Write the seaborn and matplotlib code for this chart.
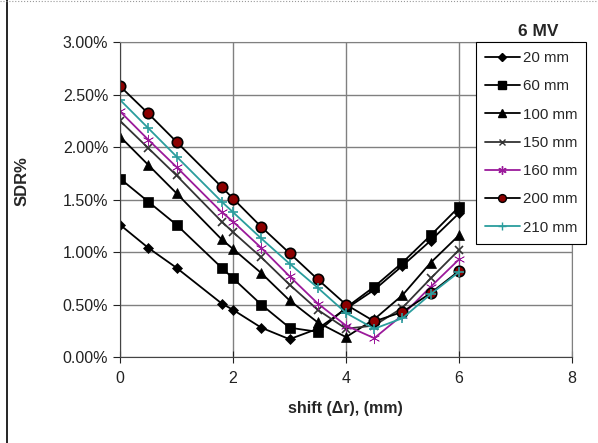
import pandas as pd
import seaborn as sns
import matplotlib.pyplot as plt
from matplotlib.lines import Line2D

# shift (mm) and SDR (%) per field depth
shift = [0, 0.5, 1, 1.8, 2, 2.5, 3, 3.5, 4, 4.5, 5, 5.5, 6]
sdr_20 = [1.26, 1.04, 0.85, 0.51, 0.45, 0.28, 0.17, 0.27, 0.46, 0.64, 0.87, 1.11, 1.37]
sdr_60 = [1.70, 1.48, 1.26, 0.85, 0.75, 0.50, 0.28, 0.24, 0.47, 0.67, 0.90, 1.16, 1.43]
sdr_100 = [2.10, 1.83, 1.56, 1.12, 1.03, 0.80, 0.54, 0.33, 0.19, 0.36, 0.59, 0.90, 1.16]
sdr_150 = [2.25, 1.99, 1.73, 1.29, 1.19, 0.95, 0.69, 0.45, 0.27, 0.30, 0.47, 0.75, 1.02]
sdr_160 = [2.34, 2.07, 1.81, 1.38, 1.29, 1.04, 0.77, 0.51, 0.30, 0.18, 0.40, 0.67, 0.93]
sdr_200 = [2.58, 2.32, 2.05, 1.62, 1.51, 1.24, 0.99, 0.74, 0.50, 0.34, 0.43, 0.61, 0.82]
sdr_210 = [2.45, 2.18, 1.91, 1.48, 1.38, 1.13, 0.89, 0.66, 0.42, 0.27, 0.37, 0.60, 0.81]

labels = ["20 mm", "60 mm", "100 mm", "150 mm", "160 mm", "200 mm", "210 mm"]
series = [sdr_20, sdr_60, sdr_100, sdr_150, sdr_160, sdr_200, sdr_210]

# line colour, marker, marker face, marker size
styles = {
    "20 mm": ("black", "D", "black", 5.5),
    "60 mm": ("black", "s", "black", 7.5),
    "100 mm": ("black", "^", "black", 7.5),
    "150 mm": ("#333333", "x", "#333333", 6),
    "160 mm": ("#9b1a9b", (6, 2, 0), "#9b1a9b", 8),
    "200 mm": ("black", "o", "#8b0000", 7.5),
    "210 mm": ("#2a9d9d", "+", "#2a9d9d", 7),
}

sns.set_style("white")
plt.rcParams["font.family"] = ["Liberation Sans", "DejaVu Sans"]

fig = plt.figure(figsize=(5.98, 4.43), dpi=100)
ax = fig.add_axes([0.2007, 0.194, 0.7558, 0.711])

for lab, vals in zip(labels, series):
    df = pd.DataFrame({"shift": shift, "sdr": vals})
    col, mk, face, ms = styles[lab]
    sns.lineplot(data=df, x="shift", y="sdr", ax=ax, color=col, marker=mk,
                 markersize=ms, markerfacecolor=face,
                 markeredgecolor="black" if lab == "200 mm" else face,
                 markeredgewidth=1.2 if mk in ("x", "+") or lab == "200 mm" else 0.5,
                 linewidth=1.3, label=lab, legend=False)

ax.set_xlim(0, 8)
ax.set_ylim(0, 3)
ax.set_xticks([0, 2, 4, 6, 8])
ax.set_yticks([0, 0.5, 1, 1.5, 2, 2.5, 3])
ax.set_yticklabels([f"{v:.2f}%" for v in [0, 0.5, 1, 1.5, 2, 2.5, 3]])
ax.grid(True, color="#808080", linewidth=1)
for s in ["top", "right"]:
    ax.spines[s].set_color("#808080")
for s in ["left", "bottom"]:
    ax.spines[s].set_color("#444444")
ax.tick_params(axis="both", labelsize=11.5, colors="#222222")
ax.tick_params(axis="y", direction="out", length=5, left=True)
ax.tick_params(axis="x", direction="inout", length=8, bottom=True, pad=6)

ax.set_xlabel("shift (\u0394r), (mm)", fontsize=11.5, fontweight="bold")
ax.xaxis.label.set_va("center")
ax.xaxis.set_label_coords(0.498, -0.162)
ax.set_ylabel("SDR%", fontsize=12, fontweight="bold")
ax.yaxis.label.set_va("center")
ax.yaxis.set_label_coords(-0.217, 0.56)

handles = [Line2D([], [], color=styles[l][0], marker=styles[l][1], markersize=styles[l][3] * 0.75,
                  markerfacecolor=styles[l][2],
                  markeredgecolor="black" if l == "200 mm" else styles[l][2], linewidth=1.3)
           for l in labels]
leg = fig.legend(handles, labels, loc="upper left", bbox_to_anchor=(0.796, 0.905),
                 fontsize=10.8, frameon=True, fancybox=False, edgecolor="black",
                 framealpha=1, labelspacing=0.95, handlelength=2.3, handletextpad=0.2,
                 borderpad=0.6, borderaxespad=0)
leg.get_frame().set_linewidth(0.8)

fig.text(0.9, 0.928, "6 MV", fontsize=12.5, fontweight="bold", ha="center", va="center")

# page border like the source snapshot
fig.add_artist(Line2D([0.011, 0.011], [0, 1], color="black", linewidth=1.2))
fig.add_artist(Line2D([0, 1], [0.998, 0.998], color="#999999", linewidth=0.8, linestyle=":"))

fig.savefig("out.png", dpi=100)
